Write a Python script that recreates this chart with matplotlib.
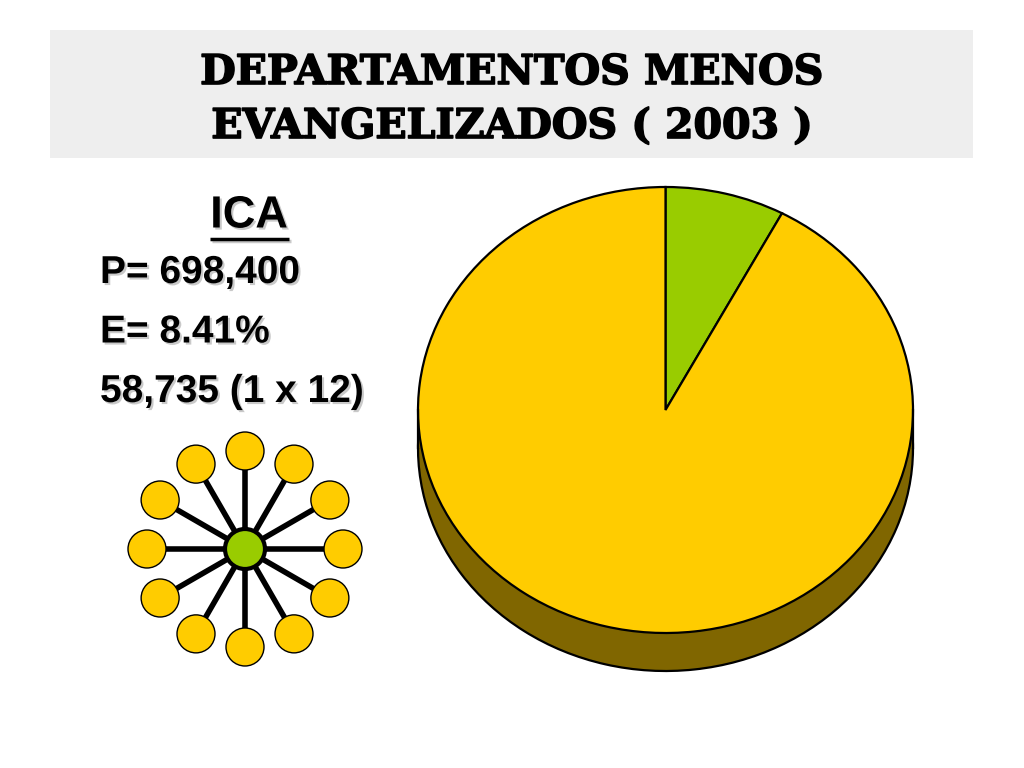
import numpy as np
import matplotlib
matplotlib.use("Agg")
import matplotlib.pyplot as plt
from matplotlib.patches import Rectangle, Circle
import matplotlib.patheffects as pe

# ---- data ----
title_lines = ["DEPARTAMENTOS MENOS", "EVANGELIZADOS ( 2003 )"]
dept_name = "ICA"
info_lines = ["P= 698,400", "E= 8.41%", "58,735 (1 x 12)"]
slice_labels = ["Evangelizados", "No evangelizados"]
slice_values = [7.8, 92.2]
slice_colors = ["#99CC00", "#FFCC00"]
side_color = "#806600"
network_count = 12

W, H = 1024, 768
fig = plt.figure(figsize=(W / 100, H / 100), dpi=100)
fig.patch.set_facecolor("white")

# overlay axes in pixel coordinates
ax = fig.add_axes([0, 0, 1, 1])
ax.set_xlim(0, W)
ax.set_ylim(H, 0)
ax.axis("off")

# title box
ax.add_patch(Rectangle((50, 30), 923, 128, facecolor="#EEEEEE", edgecolor="none", zorder=0))
for i, line in enumerate(title_lines):
    ax.text(512, 73 + i * 54, line, ha="center", va="center", fontsize=29.5,
            fontweight="bold", family="DejaVu Serif", color="black",
            path_effects=[pe.withStroke(linewidth=1.2, foreground="black")])

shadow = [pe.SimplePatchShadow(offset=(1.5, -1.5), shadow_rgbFace="#888888", alpha=0.45), pe.Normal()]

# department name, underlined
ax.text(249, 216, dept_name, ha="center", va="center", fontsize=32.5, fontweight="bold",
        family="Liberation Sans", color="black", path_effects=shadow)
ax.plot([210, 289], [239, 239], color="black", lw=2.5, solid_capstyle="butt",
        path_effects=[pe.SimpleLineShadow(offset=(1.5, -1.5), shadow_color="#888888", alpha=0.45), pe.Normal()])

for i, line in enumerate(info_lines):
    ax.text(100, 273 + i * 59.5, line, ha="left", va="center", fontsize=28, fontweight="bold",
            family="Liberation Sans", color="black", path_effects=shadow)

# network diagram (1 x 12)
cx, cy = 245, 549
R_out = 98
angles = np.deg2rad(90 - 360 / network_count * np.arange(network_count))
for a in angles:
    x, y = cx + R_out * np.cos(a), cy - R_out * np.sin(a)
    ax.plot([cx, x], [cy, y], color="black", lw=4, zorder=2, solid_capstyle="butt")
    ax.add_patch(Circle((x, y), 19, facecolor="#FFCC00", edgecolor="black", lw=1, zorder=3))
ax.add_patch(Circle((cx, cy), 20, facecolor="#99CC00", edgecolor="black", lw=3, zorder=4))

# 3D-style pie
pcx, pcy = 665.5, 410
rx, ry = 247.5, 223
depth_px = 38
d = depth_px / ry
xl = (-1.05, 1.05)
yl = (-1.3, 1.05)
left = pcx + xl[0] * rx
width = (xl[1] - xl[0]) * rx
top = pcy - yl[1] * ry
height = (yl[1] - yl[0]) * ry
axp = fig.add_axes([left / W, (H - top - height) / H, width / W, height / H])
axp.pie(slice_values, colors=[side_color] * len(slice_values), startangle=90, counterclock=False,
        radius=1, center=(0, -d), wedgeprops=dict(edgecolor="black", linewidth=1.6))
axp.fill_between([-1, 1], -d, 0, color=side_color, lw=0)
axp.plot([-1, -1], [-d, 0], color="black", lw=1.6)
axp.plot([1, 1], [-d, 0], color="black", lw=1.6)
axp.pie(slice_values, colors=slice_colors, startangle=90, counterclock=False,
        radius=1, center=(0, 0), wedgeprops=dict(edgecolor="black", linewidth=1.6))
axp.set_aspect("auto")
axp.set_xlim(*xl)
axp.set_ylim(*yl)
axp.axis("off")

fig.savefig("out.png", dpi=100)
